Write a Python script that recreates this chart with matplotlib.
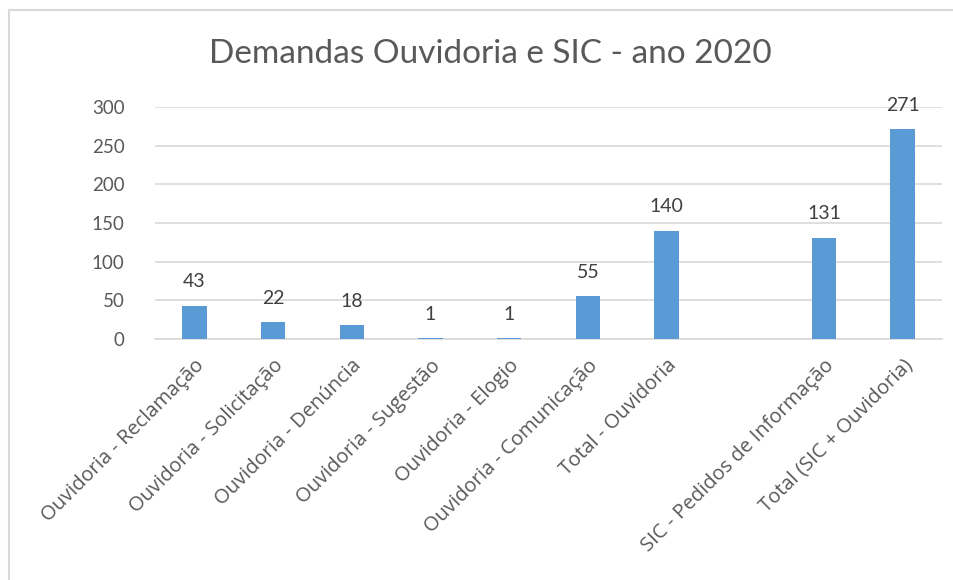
import matplotlib
matplotlib.use("Agg")
import matplotlib.pyplot as plt
from matplotlib.lines import Line2D

categories = [
    "Ouvidoria - Reclamação",
    "Ouvidoria - Solicitação",
    "Ouvidoria - Denúncia",
    "Ouvidoria - Sugestão",
    "Ouvidoria - Elogio",
    "Ouvidoria - Comunicação",
    "Total - Ouvidoria",
    "",
    "SIC - Pedidos de Informação",
    "Total (SIC + Ouvidoria)",
]
values = [43, 22, 18, 1, 1, 55, 140, None, 131, 271]
yticks = [0, 50, 100, 150, 200, 250, 300]
title = "Demandas Ouvidoria e SIC - ano 2020"

plt.rcParams['font.family'] = ['Lato', 'DejaVu Sans']

fig = plt.figure(figsize=(9.54, 5.8), dpi=100)
ax = fig.add_axes([155/954, 241/580, 787/954, 232/580])

xs = list(range(len(categories)))
bx = [x for x, v in zip(xs, values) if v is not None]
bv = [v for v in values if v is not None]
ax.bar(bx, bv, width=0.31, color="#5b9bd5", zorder=3)
for x, v in zip(bx, bv):
    ax.annotate(str(v), (x, v), xytext=(0, 11), textcoords="offset points",
                ha="center", va="bottom", fontsize=14, color="#404040")

ax.set_xlim(-0.5, len(categories) - 0.5)
ax.set_ylim(0, 300)
ax.set_yticks(yticks)
ax.set_yticklabels([str(t) for t in yticks], fontsize=13.5, color="#595959")
ax.set_xticks(xs)
ax.set_xticklabels(categories, rotation=45, ha="right", rotation_mode="anchor",
                   fontsize=14.5, color="#595959",
                   family=["Open Sans", "DejaVu Sans"])
ax.tick_params(axis="both", length=0)
ax.tick_params(axis="y", pad=22)
ax.tick_params(axis="x", pad=12)
ax.grid(axis="y", color="#d9d9d9", linewidth=1.2, zorder=0)
for s in ["top", "right", "left"]:
    ax.spines[s].set_visible(False)
ax.spines["bottom"].set_color("#d9d9d9")
ax.spines["bottom"].set_linewidth(1.2)

fig.text(490/954, 1 - 54/580, title, ha="center", va="center",
         fontsize=24, color="#595959")

# outer chart border (top and left visible)
fig.add_artist(Line2D([9/954, 1.0], [1 - 10/580, 1 - 10/580],
                      transform=fig.transFigure, color="#d9d9d9", linewidth=1.5))
fig.add_artist(Line2D([9/954, 9/954], [0, 1 - 10/580],
                      transform=fig.transFigure, color="#d9d9d9", linewidth=1.5))

fig.savefig("out.png", dpi=100, facecolor="white")
